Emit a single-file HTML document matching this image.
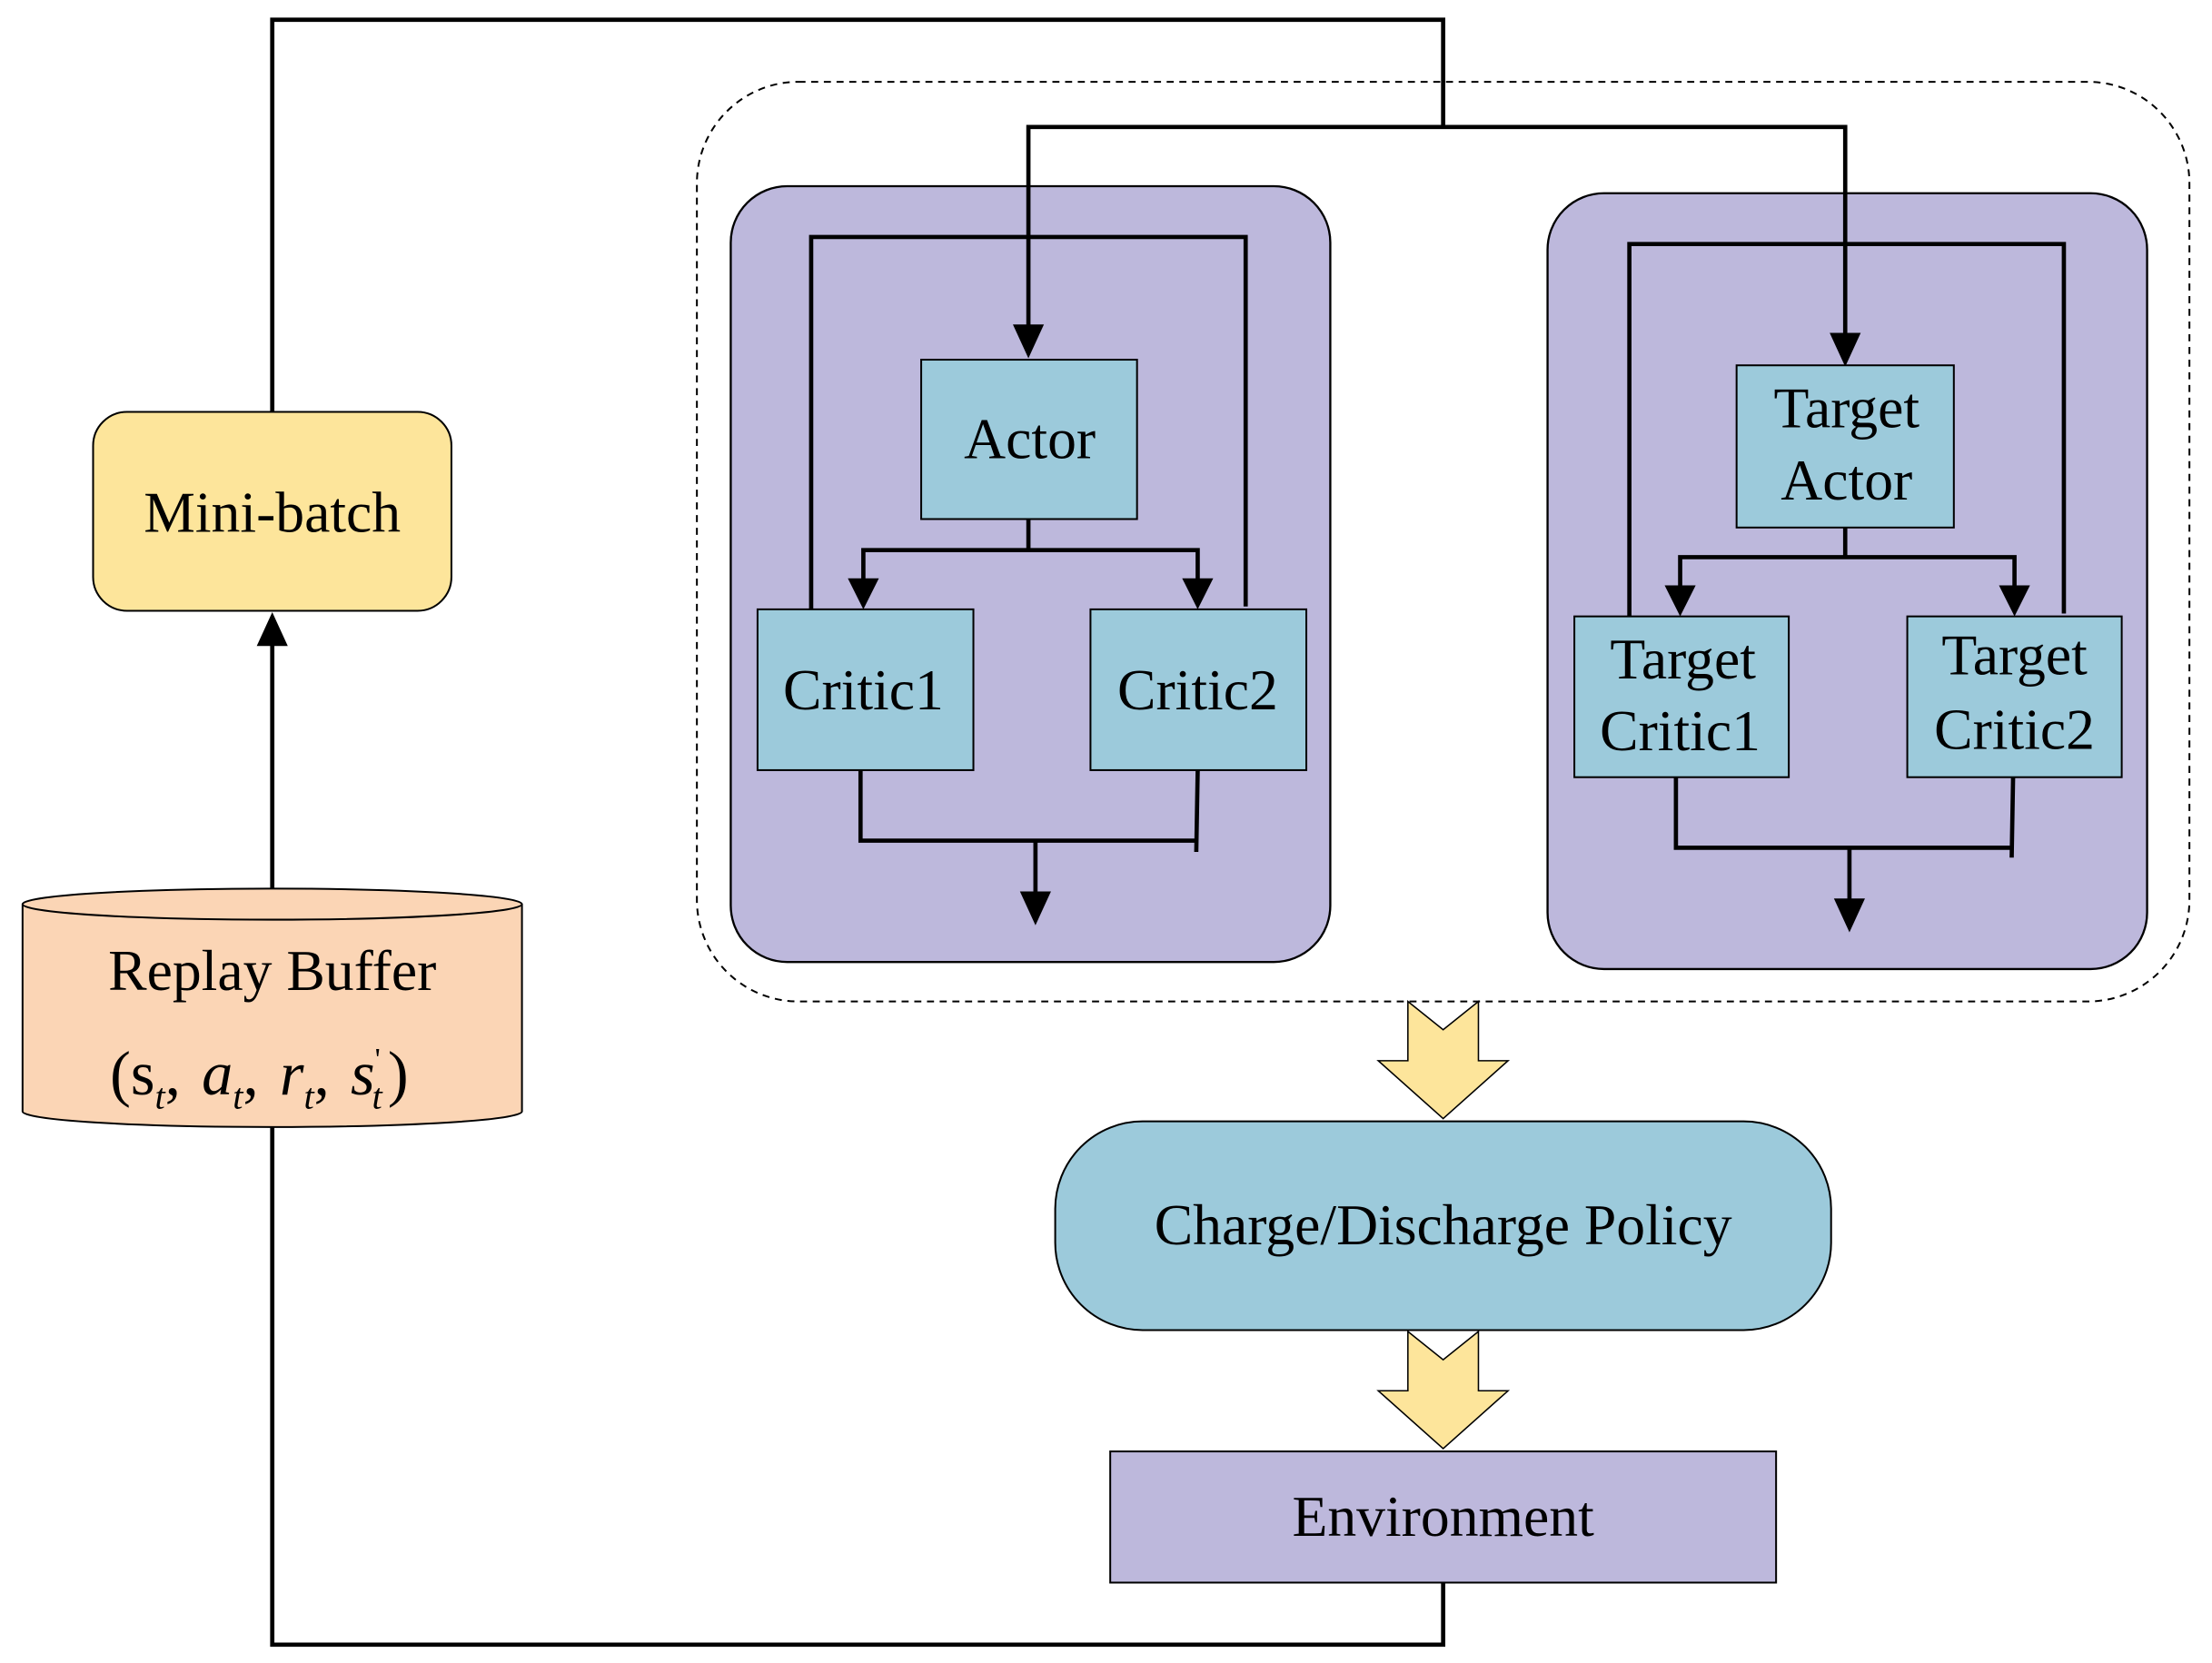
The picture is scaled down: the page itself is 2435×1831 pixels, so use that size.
<!DOCTYPE html>
<html><head><meta charset="utf-8"><style>
html,body{margin:0;padding:0;background:#fff;}
svg{display:block;}
text{font-family:"Liberation Serif",serif;fill:#000;}
</style></head><body>
<svg width="2435" height="1831" viewBox="0 0 1568 1179" preserveAspectRatio="none" xmlns="http://www.w3.org/2000/svg">
<g stroke="#000" stroke-width="3" fill="none">
<rect x="494" y="58" width="1058" height="652" rx="72" stroke-width="1.3" stroke-dasharray="5,4"/>
</g>
<rect x="518" y="132" width="425" height="550" rx="40" fill="#bdb8dc" stroke="#000" stroke-width="1.5"/>
<rect x="1097" y="137" width="425" height="550" rx="40" fill="#bdb8dc" stroke="#000" stroke-width="1.5"/>
<g stroke="#000" stroke-width="3" fill="none">
<polyline points="193,292 193,14 1023,14 1023,90"/>
<polyline points="729,236 729,90 1308,90 1308,242"/>
<polyline points="729,368 729,390"/>
<polyline points="612,418 612,390 849,390 849,418"/>
<polyline points="575,435 575,168 883,168 883,430"/>
<polyline points="610,546 610,596 849,596"/>
<line x1="849" y1="546" x2="848" y2="604"/>
<line x1="734" y1="596" x2="734" y2="638"/>
<polyline points="1308,374 1308,395"/>
<polyline points="1191,423 1191,395 1428,395 1428,423"/>
<polyline points="1155,440 1155,173 1463,173 1463,435"/>
<polyline points="1188,551 1188,601 1427,601"/>
<line x1="1427" y1="551" x2="1426" y2="608"/>
<line x1="1311" y1="601" x2="1311" y2="643"/>
<line x1="193" y1="630" x2="193" y2="452"/>
<polyline points="193,798 193,1166 1023,1166 1023,1122"/>
</g>
<g fill="#000">
<polygon points="718,230 740,230 729,254"/>
<polygon points="1297,236 1319,236 1308,260"/>
<polygon points="601,410 623,410 612,432"/>
<polygon points="838,410 860,410 849,432"/>
<polygon points="723,632 745,632 734,656"/>
<polygon points="1180,415 1202,415 1191,437"/>
<polygon points="1417,415 1439,415 1428,437"/>
<polygon points="1300,637 1322,637 1311,661"/>
<polygon points="182,458 204,458 193,434"/>
</g>
<g stroke="#000" stroke-width="1.3" fill="#9ccadb">
<rect x="653" y="255" width="153" height="113"/>
<rect x="537" y="432" width="153" height="114"/>
<rect x="773" y="432" width="153" height="114"/>
<rect x="1231" y="259" width="154" height="115"/>
<rect x="1116" y="437" width="152" height="114"/>
<rect x="1352" y="437" width="152" height="114"/>
<rect x="748" y="795" width="550" height="148" rx="62"/>
</g>
<rect x="66" y="292" width="254" height="141" rx="24" fill="#fde59b" stroke="#000" stroke-width="1.3"/>
<rect x="787" y="1029" width="472" height="93" fill="#bdb8dc" stroke="#000" stroke-width="1.3"/>
<path d="M16,641 L16,788 A177,11 0 0 0 370,788 L370,641" fill="#fbd5b5" stroke="#000" stroke-width="1.3"/>
<ellipse cx="193" cy="641" rx="177" ry="11" fill="#fbd5b5" stroke="#000" stroke-width="1.3"/>
<polygon points="998,710 1023,730 1048,710 1048,752 1069,752 1023,793 977,752 998,752" fill="#fde59b" stroke="#000" stroke-width="1"/>
<polygon points="998,944 1023,964 1048,944 1048,986 1069,986 1023,1027 977,986 998,986" fill="#fde59b" stroke="#000" stroke-width="1"/>
<g font-size="41" text-anchor="middle">
<text x="730" y="325">Actor</text>
<text x="612" y="503">Critic1</text>
<text x="849" y="503">Critic2</text>
<text x="1309" y="303">Target</text>
<text x="1309" y="354">Actor</text>
<text x="1193" y="481">Target</text>
<text x="1191" y="532">Critic1</text>
<text x="1428" y="478">Target</text>
<text x="1428" y="531">Critic2</text>
<text x="193" y="377">Mini-batch</text>
<text x="193" y="702">Replay Buffer</text>
<text x="1023" y="882">Charge/Discharge Policy</text>
<text x="1023" y="1089">Environment</text>
</g>
<text x="78" y="776" font-size="44">(s<tspan font-size="26" font-style="italic" dy="10">t</tspan><tspan dy="-10">, </tspan><tspan font-style="italic" dx="4">a</tspan><tspan font-size="26" font-style="italic" dy="10">t</tspan><tspan dy="-10">, </tspan><tspan font-style="italic" dx="4">r</tspan><tspan font-size="26" font-style="italic" dy="10">t</tspan><tspan dy="-10">, </tspan><tspan font-style="italic" dx="4">s</tspan><tspan font-size="22" dy="-18">'</tspan><tspan font-size="26" font-style="italic" dx="-6" dy="28">t</tspan><tspan dy="-10" dx="4">)</tspan></text>
</svg>
</body></html>
